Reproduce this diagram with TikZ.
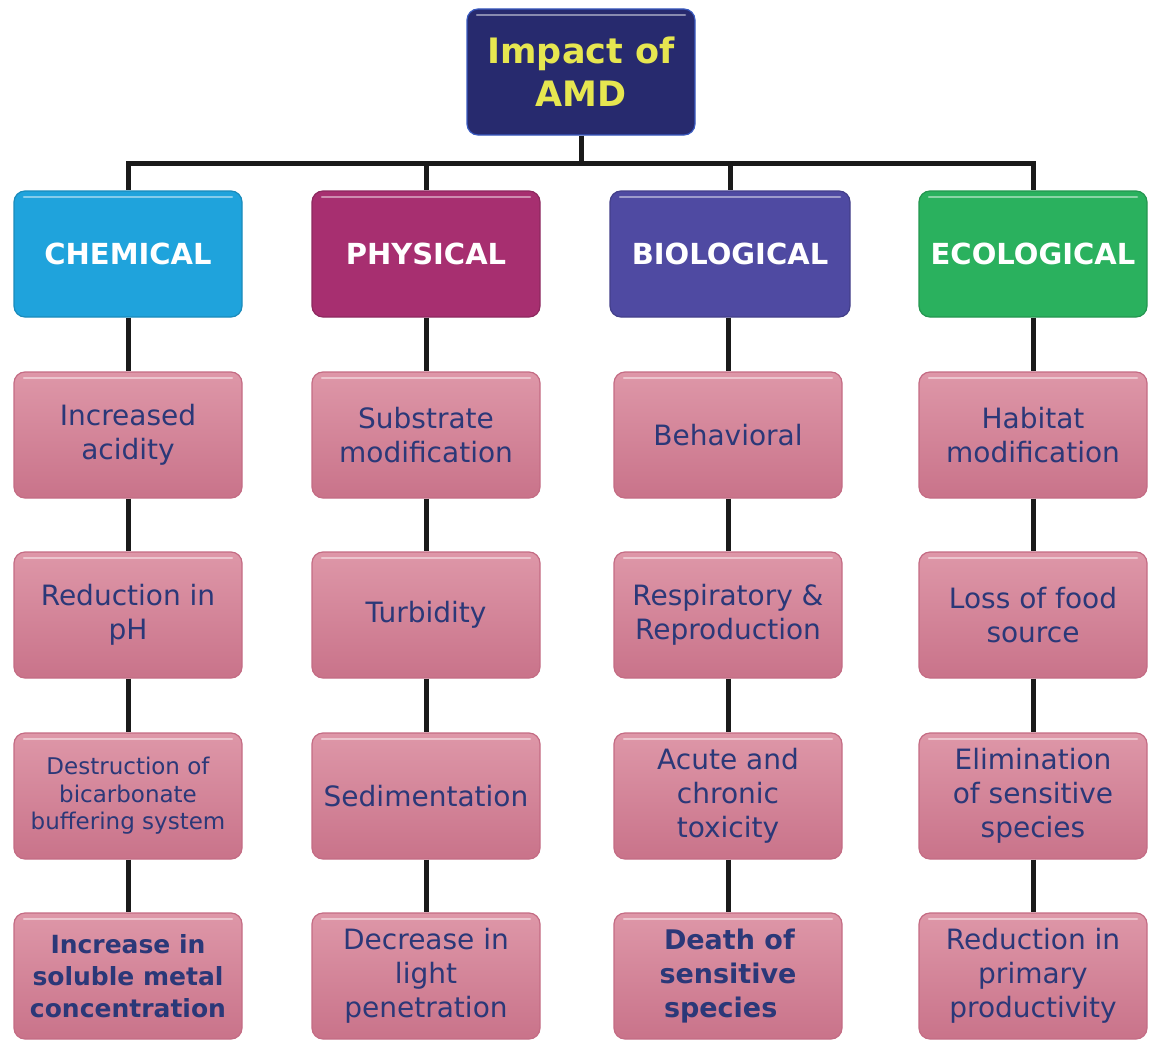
\documentclass[tikz,border=0pt]{standalone}
\usepackage{fontspec}
\setmainfont{DejaVu Sans}
\definecolor{navy}{HTML}{272A6E}
\definecolor{navyedge}{HTML}{3A5BC0}
\definecolor{amdyellow}{HTML}{E6E650}
\definecolor{chemc}{HTML}{1FA3DC}
\definecolor{physc}{HTML}{A72F70}
\definecolor{bioc}{HTML}{4F4AA2}
\definecolor{ecoc}{HTML}{2AB15E}
\definecolor{pinktop}{HTML}{DE97A8}
\definecolor{pinkbot}{HTML}{C9738A}
\definecolor{pinkedge}{HTML}{C46C84}
\definecolor{txtblue}{HTML}{2B3878}
\definecolor{linec}{HTML}{1A1A1A}
\tikzset{
  gloss/.style={path picture={\draw[white, opacity=0.45, line width=2.5pt, line cap=round]
      ([xshift=10pt,yshift=-6pt]path picture bounding box.north west) --
      ([xshift=-10pt,yshift=-6pt]path picture bounding box.north east);}},
  basebox/.style={rounded corners=11pt, minimum width=228pt, minimum height=126pt, align=center, line width=1.2pt, inner sep=2pt, gloss},
  topbox/.style={basebox, fill=navy, draw=navyedge, text=amdyellow, font=\bfseries\fontsize{35}{43}\selectfont},
  catbox/.style={basebox, text=white, font=\bfseries\fontsize{29}{36}\selectfont},
  pinkbox/.style={basebox, top color=pinktop, bottom color=pinkbot, draw=pinkedge, text=txtblue, font=\fontsize{28}{34}\selectfont},
  smalltxt/.style={font=\fontsize{23}{27.5}\selectfont},
  boldtxt/.style={font=\bfseries\fontsize{25}{32}\selectfont},
  conn/.style={draw=linec, line width=5pt}
}
\begin{document}
\begin{tikzpicture}[x=1pt,y=-1pt]
\useasboundingbox (0,0) rectangle (1157,1041);
% top
\node[topbox] (top) at (581,72) {Impact of\\AMD};
\coordinate (bus) at (581,163);
% categories
\node[catbox, fill=chemc, draw=chemc!85!black] (chem) at (128,254) {CHEMICAL};
\node[catbox, fill=physc, draw=physc!85!black] (phys) at (426,254) {PHYSICAL};
\node[catbox, fill=bioc, draw=bioc!85!black, minimum width=240pt] (bio) at (730,254) {BIOLOGICAL};
\node[catbox, fill=ecoc, draw=ecoc!85!black] (eco) at (1033,254) {ECOLOGICAL};
% column 1
\node[pinkbox] (c1) at (128,435) {Increased\\acidity};
\node[pinkbox] (c2) at (128,615) {Reduction in\\pH};
\node[pinkbox, smalltxt] (c3) at (128,796) {Destruction of\\bicarbonate\\buffering system};
\node[pinkbox, boldtxt] (c4) at (128,976) {Increase in\\soluble metal\\concentration};
% column 2
\node[pinkbox] (p1) at (426,435) {Substrate\\modification};
\node[pinkbox] (p2) at (426,615) {Turbidity};
\node[pinkbox] (p3) at (426,796) {Sedimentation};
\node[pinkbox] (p4) at (426,976) {Decrease in\\light\\penetration};
% column 3
\node[pinkbox] (b1) at (728,435) {Behavioral};
\node[pinkbox] (b2) at (728,615) {Respiratory \&\\Reproduction};
\node[pinkbox] (b3) at (728,796) {Acute and\\chronic\\toxicity};
\node[pinkbox, boldtxt, font=\bfseries\fontsize{27}{34}\selectfont, align=left] (b4) at (728,976) {\,Death of\\sensitive\\\,species};
% column 4
\node[pinkbox] (e1) at (1033,435) {Habitat\\modification};
\node[pinkbox] (e2) at (1033,615) {Loss of food\\source};
\node[pinkbox] (e3) at (1033,796) {Elimination\\of sensitive\\species};
\node[pinkbox] (e4) at (1033,976) {Reduction in\\primary\\productivity};
% connectors
\draw[conn] (top.south) -- (bus);
\draw[conn] (bus) -| (chem.north);
\draw[conn] (bus) -| (phys.north);
\draw[conn] (bus) -| (bio.north);
\draw[conn] (bus) -| (eco.north);
\draw[conn] (chem.south) -- (c1.north);
\draw[conn] (c1.south) -- (c2.north);
\draw[conn] (c2.south) -- (c3.north);
\draw[conn] (c3.south) -- (c4.north);
\draw[conn] (phys.south) -- (p1.north);
\draw[conn] (p1.south) -- (p2.north);
\draw[conn] (p2.south) -- (p3.north);
\draw[conn] (p3.south) -- (p4.north);
\draw[conn] (bio.south -| b1.north) -- (b1.north);
\draw[conn] (b1.south) -- (b2.north);
\draw[conn] (b2.south) -- (b3.north);
\draw[conn] (b3.south) -- (b4.north);
\draw[conn] (eco.south) -- (e1.north);
\draw[conn] (e1.south) -- (e2.north);
\draw[conn] (e2.south) -- (e3.north);
\draw[conn] (e3.south) -- (e4.north);
\end{tikzpicture}
\end{document}
